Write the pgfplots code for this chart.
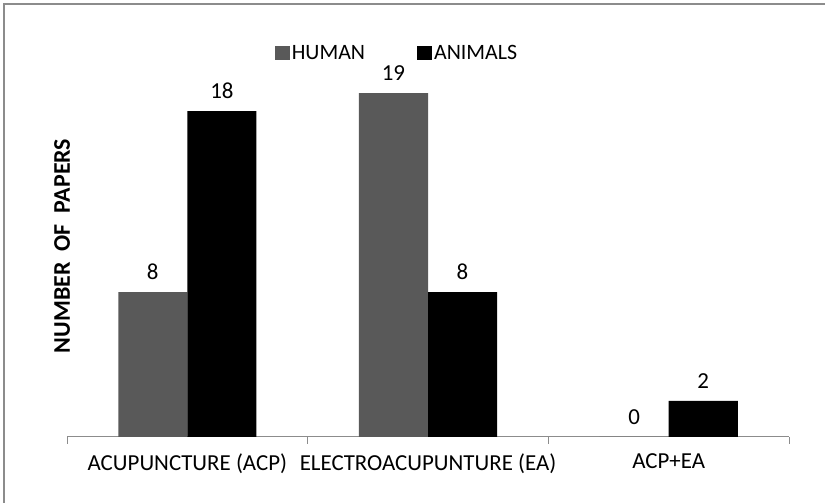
\documentclass[border=0pt]{standalone}
\usepackage{fontspec}
\setmainfont{Carlito}
\usepackage{pgfplots}
\pgfplotsset{compat=1.18}
\definecolor{human}{HTML}{595959}
\definecolor{framegray}{HTML}{8C8C8C}
\begin{document}
\begin{tikzpicture}[x=1bp,y=1bp, font=\fontsize{23}{27}\selectfont]
\path[use as bounding box] (0,0) rectangle (825,503);
\draw[framegray, line width=2.5bp] (4,0) -- (4,499) -- (825,499);
\node[rotate=90, font=\fontsize{24}{28}\selectfont\bfseries] at (62,257) {NUMBER\hspace{11bp}OF\hspace{11bp}PAPERS};
\begin{axis}[
    at={(67bp,66bp)}, anchor=south west,
    width=722bp, height=362bp, scale only axis,
    xmin=-0.5, xmax=2.5, ymin=0, ymax=20,
    axis x line*=bottom, axis y line=none,
    x axis line style={framegray, line width=1bp},
    xtick={0,1,2},
    xticklabels={ACUPUNCTURE (ACP), ELECTROACUPUNTURE (EA), ACP+EA},
    minor xtick={-0.5,0.5,1.5,2.5},
    major tick length=0pt, minor tick length=7bp,
    tick align=outside,
    minor tick style={framegray, line width=1bp},
    ticklabel style={font=\fontsize{23}{27}\selectfont},
    xticklabel style={yshift=-13bp},
    ytick=\empty,
    ybar=0pt,
    bar width=0.287,
    nodes near coords,
    every node near coord/.append style={yshift=9bp, font=\fontsize{23}{27}\selectfont},
    /pgf/number format/assume math mode=true,
    legend style={at={(0.457,1)}, anchor=south, yshift=10bp, draw=none, fill=none,
        font=\fontsize{22}{26}\selectfont,
        nodes={inner xsep=2bp},
        legend columns=2, /tikz/every even column/.append style={column sep=50bp}},
    legend image code/.code={\path[#1, draw=none] (0bp,-7bp) rectangle (15bp,7bp);},
]
\addplot[fill=human, draw=none] coordinates {(0,8) (1,19) (2,0)};
\addplot[fill=black, draw=none] coordinates {(0,18) (1,8) (2,2)};
\legend{HUMAN, ANIMALS}
\end{axis}
\end{tikzpicture}
\end{document}
